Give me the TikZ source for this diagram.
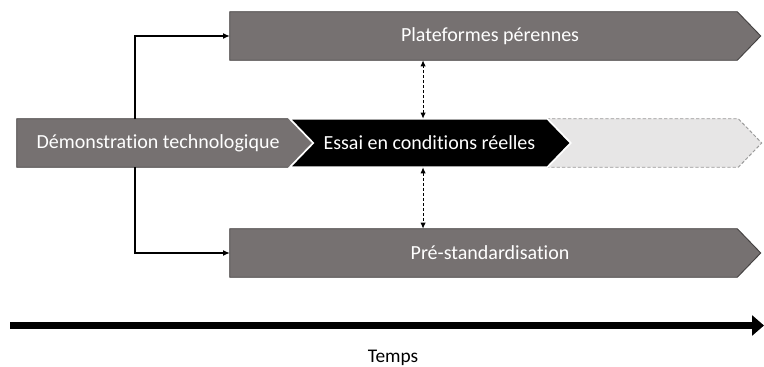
\documentclass[tikz,border=0pt]{standalone}
\usepackage{fontspec}
\setmainfont{Carlito}[Ligatures=NoCommon]
\usetikzlibrary{arrows.meta}

\definecolor{barGray}{HTML}{767171}
\definecolor{barEdge}{HTML}{454242}
\definecolor{futureGray}{HTML}{E7E6E6}
\definecolor{futureEdge}{HTML}{9A9A9A}

% outline of a phase, built on the anchors of its body node
\newcommand{\phasepath}[1]{(#1.north west) -- (#1.north east) -- ([xshift=17.6pt]#1.east)
  -- (#1.south east) -- (#1.south west) -- cycle}
\newcommand{\notchpath}[1]{(#1.north west) -- (#1.north east) -- ([xshift=17.6pt]#1.east)
  -- (#1.south east) -- (#1.south west) -- ([xshift=17.6pt]#1.west) -- cycle}

\tikzset{
  body/.style={inner sep=0pt, minimum height=36pt},
  grayphase/.style={fill=barGray, draw=barEdge, line width=0.7pt},
  phasetext/.style={text=white, font=\fontsize{15}{18}\selectfont},
  link/.style={-{Latex[length=5pt,width=4.5pt]}, line width=0.9pt},
  dlink/.style={{Latex[length=4.5pt,width=4pt]}-{Latex[length=4.5pt,width=4pt]},
    dash pattern=on 2.2pt off 1.6pt, line width=0.8pt}
}

\begin{document}
\begin{tikzpicture}[x=0.75pt, y=-0.75pt]
  \useasboundingbox (0,0) rectangle (764,367);
  % phase bodies
  \node[body, minimum width=380.25pt] (perenne) at (483.5,36) {};
  \node[body, minimum width=204.75pt] (demo) at (153.5,143) {};
  \node[body, minimum width=192.75pt] (essai) at (418.5,143) {};
  \node[body, minimum width=143.25pt] (futur) at (642.5,143) {};
  \node[body, minimum width=380.25pt] (prestd) at (483.5,253) {};
  % phase outlines
  \draw[grayphase] \phasepath{perenne};
  \draw[fill=futureGray, draw=futureEdge, line width=0.7pt, dash pattern=on 2.5pt off 1.5pt] \notchpath{futur};
  \draw[grayphase] \phasepath{demo};
  \draw[fill=black, draw=white, line width=1.3pt] \notchpath{essai};
  \draw[grayphase] \phasepath{prestd};
  % labels
  \node[phasetext] (perenne-txt) at ([xshift=4.9pt]perenne.center) {Plateformes pérennes};
  \node[phasetext] (demo-txt) at ([xshift=3.4pt]demo.center) {Démonstration technologique};
  \node[phasetext] (essai-txt) at ([xshift=8.2pt]essai.center) {Essai en conditions réelles};
  \node[phasetext] (prestd-txt) at ([xshift=4.9pt]prestd.center) {Pré-standardisation};
  % connectors
  \draw[link] ([xshift=-13.9pt]demo.north) |- (perenne.west);
  \draw[link] ([xshift=-13.9pt]demo.south) |- (prestd.west);
  \draw[dlink] ([xshift=3.4pt]essai.north) -- ([xshift=3.4pt]essai.north |- perenne.south);
  \draw[dlink] ([xshift=3.4pt]essai.south) -- ([xshift=3.4pt]essai.south |- prestd.north);
  % time axis
  \coordinate (t0) at (10,325.5);
  \coordinate (t1) at (764,325.5);
  \draw[line width=5.2pt, -{Triangle[length=9pt,width=15pt]}] (t0) -- (t1);
  \node[font=\fontsize{14.5}{17}\selectfont] (temps) at (393,358) {Temps};
\end{tikzpicture}
\end{document}
